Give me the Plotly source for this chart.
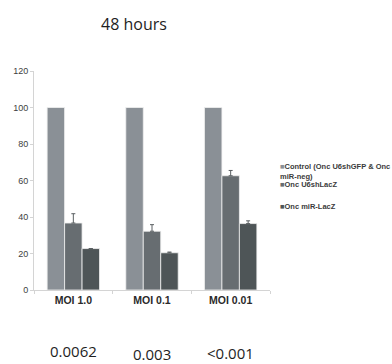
import plotly.graph_objects as go

categories = ["MOI 1.0", "MOI 0.1", "MOI 0.01"]
series_names = ["Control (Onc U6shGFP & Onc<br>miR-neg)", "Onc U6shLacZ", "Onc miR-LacZ"]
control_vals = [100, 100, 100]
u6_vals = [36.7, 32.2, 62.6]
u6_err = [5.1, 3.6, 2.9]
mir_vals = [22.7, 20.4, 36.4]
mir_err = [None, 0.4, 1.5]
p_values = ["0.0062", "0.003", "<0.001"]
y_ticks = [0, 20, 40, 60, 80, 100, 120]

colors = ["#8a9096", "#676d71", "#4e5557"]

fig = go.Figure()
fig.add_bar(x=categories, y=control_vals, name=series_names[0],
            marker=dict(color=colors[0], line=dict(color="#f0f0f0", width=0.8)))
fig.add_bar(x=categories, y=u6_vals, name=series_names[1],
            marker=dict(color=colors[1], line=dict(color="#f0f0f0", width=0.8)),
            error_y=dict(type="data", array=u6_err, arrayminus=[0]*3, symmetric=False,
                         color="#5a5f62", thickness=1, width=2))
fig.add_bar(x=categories, y=mir_vals, name=series_names[2],
            marker=dict(color=colors[2], line=dict(color="#f0f0f0", width=0.8)),
            error_y=dict(type="data", array=mir_err, arrayminus=[0]*3, symmetric=False,
                         color="#5a5f62", thickness=1, width=2))

W, H = 392, 364
L, R, T, B = 34, 122, 71, 74
PW, PH = W - L - R, H - T - B
fig.update_layout(
    width=W, height=H,
    margin=dict(l=L, r=R, t=T, b=B, pad=0, autoexpand=False),
    paper_bgcolor="white", plot_bgcolor="white",
    barmode="group", bargap=0.334, bargroupgap=0,
    showlegend=False,
    font=dict(family="Liberation Sans, Arial, sans-serif", color="#333333"),
)
fig.update_yaxes(range=[0, 120], tickvals=y_ticks, showgrid=False, zeroline=False,
                 automargin=False,
                 showline=True, linecolor="#d4d4d4", linewidth=1,
                 ticks="outside", ticklen=3, tickcolor="#d4d4d4",
                 tickfont=dict(size=9, color="#404040"))
fig.update_xaxes(showgrid=False, showline=True, linecolor="#d4d4d4", linewidth=1,
                 automargin=False,
                 ticks="outside", tickson="boundaries", ticklen=3, tickcolor="#d4d4d4",
                 tickfont=dict(size=10.5, color="#2a2a2a", family="Liberation Sans, Arial, sans-serif", weight="bold"))

def px_x(px):
    return (px - L) / PW

def px_y(py):
    return 1 - (py - T) / PH

# Title
fig.add_annotation(text="48 hours", xref="paper", yref="paper",
                   x=px_x(134), y=px_y(24),
                   showarrow=False, xanchor="center", yanchor="middle",
                   font=dict(family="Open Sans", size=16, color="#1e1e1e"))

# p-values under each category
p_y = [351, 354, 353]
for cat, pv, py in zip(categories, p_values, p_y):
    fig.add_annotation(text=pv, x=cat, xref="x", yref="paper", y=px_y(py),
                       showarrow=False, xanchor="center", yanchor="middle",
                       font=dict(family="Open Sans", size=15, color="#1e1e1e"))

# Legend drawn as annotations
leg_y = [171.5, 184, 206]
for name, col, ly in zip(series_names, colors, leg_y):
    fig.add_annotation(
        text=f"<span style='color:{col}'>■</span><b>{name}</b>",
        xref="paper", yref="paper", x=px_x(278), y=px_y(ly),
        showarrow=False, xanchor="left", yanchor="middle", align="left",
        font=dict(family="Liberation Sans, Arial, sans-serif", size=7.5, color="#3a3a3a"))

fig.write_html("out.html", config={"displayModeBar": False},
               post_script="document.body.style.margin='0';document.body.style.overflow='hidden';")
